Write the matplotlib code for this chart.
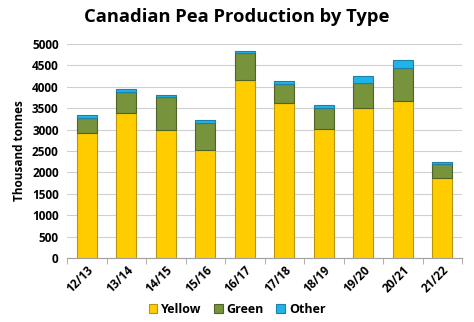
import matplotlib.pyplot as plt
import numpy as np

seasons = ["12/13", "13/14", "14/15", "15/16", "16/17", "17/18", "18/19", "19/20", "20/21", "21/22"]
yellow = [2910, 3380, 3000, 2520, 4170, 3610, 3020, 3500, 3670, 1880]
green = [370, 510, 760, 640, 620, 450, 480, 600, 760, 310]
other = [60, 70, 50, 55, 50, 75, 85, 150, 185, 60]

plt.rcParams["font.family"] = ["Open Sans", "DejaVu Sans"]

fig = plt.figure(figsize=(4.74, 3.22), dpi=100)
ax = fig.add_axes([67 / 474, 1 - 258 / 322, 395 / 474, 214 / 322])

x = np.arange(len(seasons))
w = 0.5
yb = np.array(yellow)
gb = yb + np.array(green)

ax.bar(x, yellow, w, color="#FFCC00", edgecolor="#B8960A", linewidth=0.8, label="Yellow", zorder=3)
ax.bar(x, green, w, bottom=yb, color="#77933C", edgecolor="#4F6228", linewidth=0.8, label="Green", zorder=3)
ax.bar(x, other, w, bottom=gb, color="#1EB4E8", edgecolor="#1F7FA8", linewidth=0.8, label="Other", zorder=3)

ax.set_xlim(-0.5, len(seasons) - 0.5)
ax.set_ylim(0, 5000)
ax.set_yticks(np.arange(0, 5001, 500))
ax.yaxis.grid(True, color="#D0D0D0", linewidth=0.8, zorder=0)
ax.tick_params(axis="y", length=0, labelsize=8.5, pad=6)
for lab in ax.get_yticklabels():
    lab.set_fontweight("bold")

ax.set_xticks(x)
ax.set_xticklabels(seasons, rotation=45, ha="right", rotation_mode="anchor", fontsize=8.5, fontweight="bold")
ax.tick_params(axis="x", length=0, pad=4)
ax.set_xticks(np.arange(-0.5, len(seasons), 1), minor=True)
ax.tick_params(axis="x", which="minor", length=4, color="#A0A0A0")

for s in ["top", "right", "left"]:
    ax.spines[s].set_visible(False)
ax.spines["bottom"].set_color("#A0A0A0")

ax.set_ylabel("Thousand tonnes", fontsize=8.5, fontweight="bold", labelpad=4)
fig.suptitle("Canadian Pea Production by Type", x=0.5, y=0.975, fontsize=13.2, fontweight="bold")

leg = fig.legend(loc="lower center", bbox_to_anchor=(0.5, -0.015), ncol=3, frameon=False,
                 fontsize=9, handlelength=0.7, handleheight=0.7, handletextpad=0.3, columnspacing=1.0)
for t in leg.get_texts():
    t.set_fontweight("bold")

fig.savefig("out.png", dpi=100, facecolor="white")
